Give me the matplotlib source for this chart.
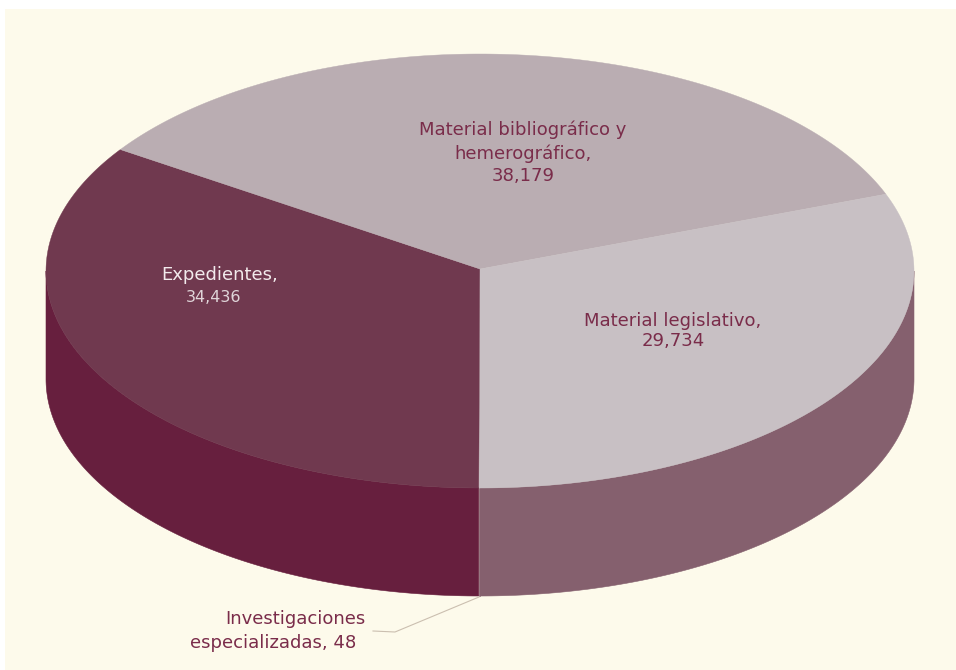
import numpy as np
import matplotlib
matplotlib.use('Agg')
import matplotlib.pyplot as plt
from matplotlib.patches import Rectangle

categories = ['Investigaciones especializadas', 'Expedientes',
              'Material bibliográfico y hemerográfico', 'Material legislativo']
values = [48, 34436, 38179, 29734]

top_colors = ['#c8c0c4', '#70394f', '#baadb2', '#c8c0c4']
side_colors = ['#85606e', '#671f3e', '#671f3e', '#85606e']
text_color = '#7a2c4a'
bg_color = '#fdfaeb'

# ellipse in pixels
cx, cy, rx, ry = 480, 271, 434, 217
depth = 108

# the original has some perspective, so slice edges are not exactly proportional
nudge = [0, 0, -2.8, 6.2, 0]

def rim(angles):
    a = np.radians(angles)
    return cx + rx * np.cos(a), cy - ry * np.sin(a)

fig = plt.figure(figsize=(9.56, 6.7), dpi=100)
fig.patch.set_facecolor('white')
ax = fig.add_axes([0, 0, 1, 1])
ax.set_xlim(0, 956)
ax.set_ylim(670, 0)
ax.axis('off')
ax.add_patch(Rectangle((5, 9), 951, 661, color=bg_color, lw=0))

# clockwise from the bottom of the pie
edges = -90 - np.concatenate([[0], np.cumsum(values)]) / sum(values) * 360
edges = edges + np.array(nudge)

apex_y = cy - 2

# side wall first (only the front half can be seen)
for i in range(len(values)):
    lo, hi = edges[i + 1], edges[i]
    for shift in (0, 360, -360):
        s = max(lo + shift, -180)
        e = min(hi + shift, 0)
        if e > s:
            t = np.linspace(s, e, 120)
            x, y = rim(t)
            ax.fill(np.r_[x, x[::-1]], np.r_[y, y[::-1] + depth],
                    color=side_colors[i], lw=0.4, zorder=2)

# top face
for i in range(len(values)):
    t = np.linspace(edges[i], edges[i + 1], 200)
    x, y = rim(t)
    ax.fill(np.r_[cx, x], np.r_[apex_y, y], color=top_colors[i], lw=0.3, zorder=3)

ax.text(523, 153, 'Material bibliográfico y\nhemerográfico,\n38,179', ha='center', va='center',
        fontsize=13, color=text_color, linespacing=1.33, zorder=5)
ax.text(220, 275, 'Expedientes,', ha='center', va='center', fontsize=13, color='#f2eaec', zorder=5)
ax.text(214, 298, '34,436', ha='center', va='center', fontsize=11.5, color='#e0d5d9', zorder=5)
ax.text(673, 331, 'Material legislativo,\n29,734', ha='center', va='center',
        fontsize=13, color=text_color, linespacing=1.15, zorder=5)
ax.text(295, 619, 'Investigaciones', ha='center', va='center', fontsize=13, color=text_color, zorder=5)
ax.text(273, 643, 'especializadas, 48', ha='center', va='center', fontsize=13, color=text_color, zorder=5)

# leader line of the smallest slice
ax.plot([479, 395, 373], [597, 632, 631], color='#cbbfb0', lw=0.8, zorder=4)

plt.savefig('out.png', dpi=100, facecolor='white')
plt.close()
